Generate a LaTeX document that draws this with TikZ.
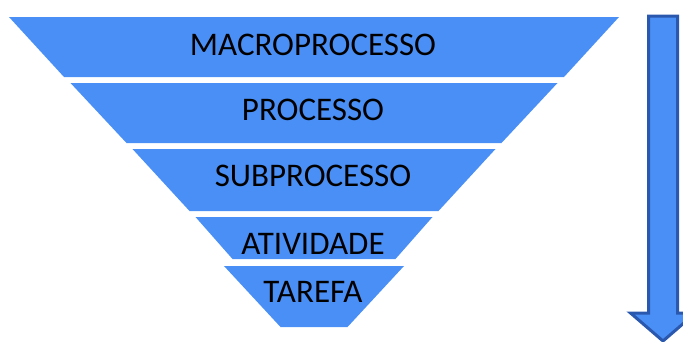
\documentclass[tikz,border=0pt]{standalone}
\usepackage{fontspec}
\setmainfont{Carlito}
\usepackage{tikz}
\definecolor{AzulNivel}{HTML}{4A8FF5}
\definecolor{AzulBorda}{HTML}{2A58AE}

\begin{document}
\begin{tikzpicture}[
  x = 1pt, y = -1pt,
  nivel/.style = {fill = AzulNivel},
  rotulo/.style = {anchor = base, inner sep = 0pt, text = black,
      font = \fontsize{33}{33}\selectfont},
  seta/.style = {fill = AzulNivel, draw = AzulBorda, line width = 3pt}
]
  \clip (0, 0) rectangle (683, 341);
  % niveis do funil: topo, base, meia largura em cima e em baixo, base do texto
  \foreach \n/\ya/\yb/\wa/\wb/\yt/\txt in {
      1/17/77/305/250/55/MACROPROCESSO,
      2/83/143/243.5/187.5/120/PROCESSO,
      3/149/211/181.5/124.5/186/SUBPROCESSO,
      4/217/259/118.5/81.5/254/ATIVIDADE,
      5/266/327/90/33.5/302/TAREFA}
  {
    \fill[nivel] (314 - \wa, \ya) -- (314 + \wa, \ya) -- (314 + \wb, \yb)
      -- (314 - \wb, \yb) -- cycle;
    \node[rotulo] (nivel-\n) at (313, \yt) {\txt};
  }

  % seta para baixo
  \draw[seta] (648.5, 16) -- (677.5, 16) -- (677.5, 313) -- (695.5, 313)
    -- (663, 341) -- (630.5, 313) -- (648.5, 313) -- cycle;
\end{tikzpicture}
\end{document}
